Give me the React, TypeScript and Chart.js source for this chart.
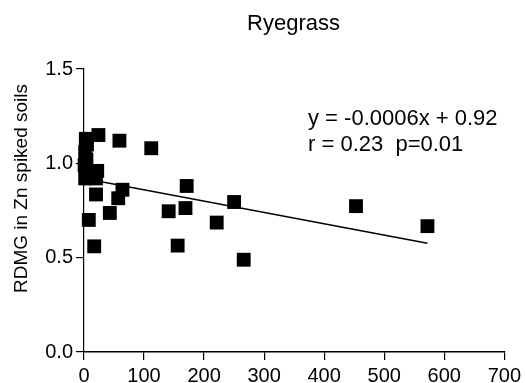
import React, { useEffect, useRef } from "react";
import { Chart, registerables } from "chart.js";

Chart.register(...registerables);

const titleText = "Ryegrass";
const yAxisTitle = "RDMG in Zn spiked soils";
const equationLines = ["y = -0.0006x + 0.92", "r = 0.23  p=0.01"];

const xValues = [3, 5, 2, 4, 1, 3, 5, 2, 24, 22, 20, 8, 17, 20, 43, 57, 64, 59, 112, 141, 156, 169, 171, 221, 250, 266, 453, 572];
const yValues = [1.13, 1.1, 1.06, 1.02, 0.99, 0.96, 0.93, 0.92, 1.15, 0.96, 0.92, 0.7, 0.56, 0.835, 0.737, 0.815, 0.86, 1.12, 1.08, 0.746, 0.564, 0.763, 0.88, 0.686, 0.795, 0.489, 0.773, 0.667];

const slope = -0.0006;
const intercept = 0.92;
const fitX = [0, 572];

const xTicks = [0, 100, 200, 300, 400, 500, 600, 700];
const yTicks = [0, 0.5, 1.0, 1.5];

const FONT = "'Liberation Sans', Arial, sans-serif";

export default function App() {
  const ref = useRef<HTMLCanvasElement | null>(null);

  useEffect(() => {
    if (!ref.current) return;
    Chart.defaults.font.family = FONT;
    Chart.defaults.font.size = 20;
    Chart.defaults.color = "#000";
    const textPlugin = {
      id: "texts",
      afterDraw(chart: any) {
        const ctx = chart.ctx;
        ctx.save();
        ctx.fillStyle = "#000";
        ctx.font = `22px ${FONT}`;
        ctx.textAlign = "center";
        ctx.textBaseline = "alphabetic";
        ctx.fillText(titleText, 293.5, 30);
        ctx.textAlign = "left";
        ctx.fillText(equationLines[0], 308, 125);
        ctx.fillText(equationLines[1], 308, 151);
        ctx.translate(27, 188.5);
        ctx.rotate(-Math.PI / 2);
        ctx.font = `19px ${FONT}`;
        ctx.textAlign = "center";
        ctx.fillText(yAxisTitle, 0, 0);
        ctx.restore();
      },
    };

    const chart = new Chart(ref.current, {
      type: "scatter",
      data: {
        datasets: [
          {
            type: "scatter",
            data: xValues.map((x, i) => ({ x, y: yValues[i] })),
            pointStyle: "rect",
            pointRadius: 9.8,
            pointHoverRadius: 9.8,
            backgroundColor: "#000",
            borderWidth: 0,
            clip: false,
            order: 1,
          } as any,
          {
            type: "line",
            data: fitX.map((x) => ({ x, y: slope * x + intercept })),
            borderColor: "#000",
            borderWidth: 1.6,
            pointRadius: 0,
            fill: false,
            order: 2,
          } as any,
        ],
      },
      options: {
        animation: false,
        responsive: false,
        devicePixelRatio: 1,
        layout: { padding: { top: 69, right: 20, left: 0, bottom: 0 } },
        plugins: {
          legend: { display: false },
          tooltip: { enabled: false },
          title: { display: false },
        },
        scales: {
          x: {
            type: "linear",
            min: 0,
            max: 700,
            afterFit: (s: any) => {
              s.height = 31;
            },
            afterBuildTicks: (s: any) => {
              s.ticks = xTicks.map((v) => ({ value: v }));
            },
            grid: { display: true, drawOnChartArea: false, drawTicks: true, tickLength: 8, color: "#000", lineWidth: 1.2 },
            border: { display: true, color: "#000", width: 1.6 },
            ticks: { color: "#000", font: { family: FONT, size: 20 }, padding: 4, maxRotation: 0, autoSkip: false },
          },
          y: {
            type: "linear",
            min: 0,
            max: 1.5,
            afterFit: (s: any) => {
              s.width = 84;
            },
            afterBuildTicks: (s: any) => {
              s.ticks = yTicks.map((v) => ({ value: v }));
            },
            grid: { display: true, drawOnChartArea: false, drawTicks: true, tickLength: 8, color: "#000", lineWidth: 1.2 },
            border: { display: true, color: "#000", width: 1.2 },
            ticks: {
              color: "#000",
              font: { family: FONT, size: 20 },
              padding: 3,
              autoSkip: false,
              callback: (v: any) => Number(v).toFixed(1),
            },
          },
        },
      },
      plugins: [textPlugin],
    });
    return () => chart.destroy();
  }, []);

  return (
    <div style={{ position: "fixed", left: 0, top: 0, width: 525, height: 383, background: "#fff" }}>
      <canvas ref={ref} width={525} height={383} style={{ width: 525, height: 383, display: "block" }} />
    </div>
  );
}
